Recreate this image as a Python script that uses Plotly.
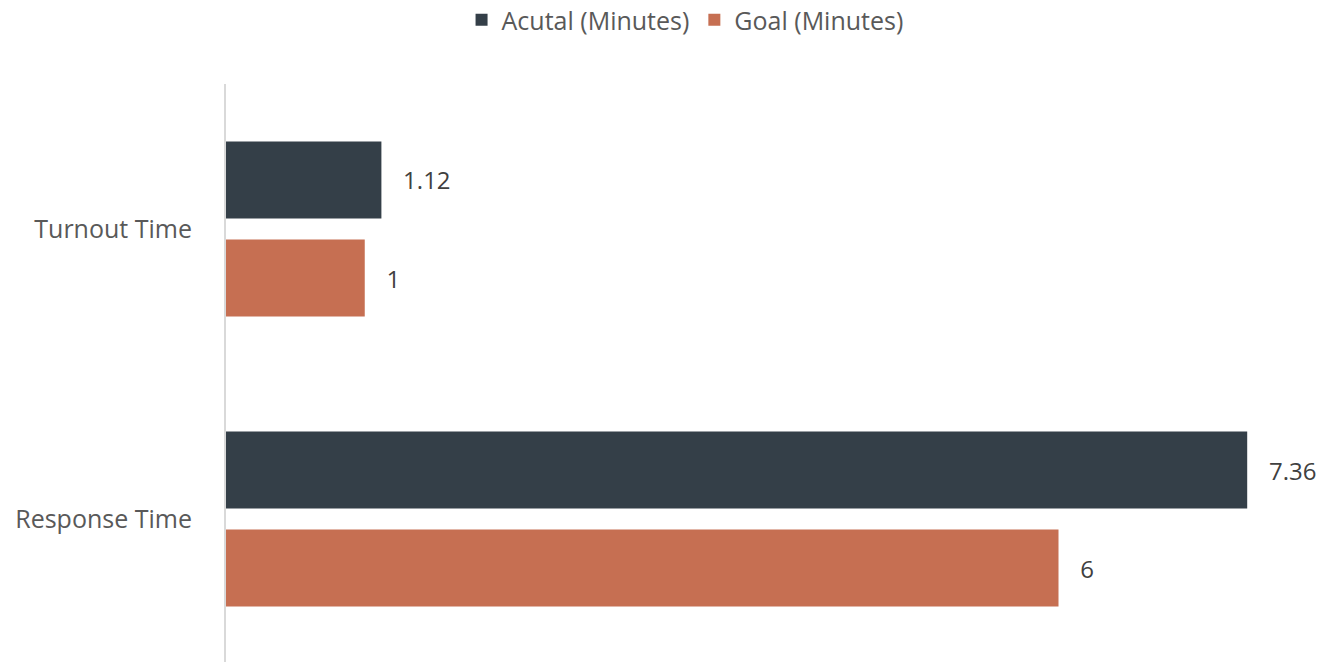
import plotly.graph_objects as go

categories = ["Turnout Time", "Response Time"]
actual_minutes = [1.12, 7.36]
goal_minutes = [1, 6]

series_names = ["Acutal (Minutes)", "Goal (Minutes)"]
colors = ["#343F48", "#C66F52"]

FONT = "Open Sans, Liberation Sans, Arial"
HEIGHT = 662

fig = go.Figure()
for name, vals, col in zip(series_names, [actual_minutes, goal_minutes], colors):
    fig.add_trace(go.Bar(
        y=categories, x=vals, name=name, orientation="h",
        marker=dict(color=col, line=dict(width=0)),
        text=vals, texttemplate="   %{x}", textposition="outside",
        textfont=dict(family=FONT, size=24, color="#404040"),
        cliponaxis=False,
    ))

fig.update_layout(
    width=1338, height=HEIGHT,
    margin=dict(l=226, r=2, t=84, b=0),
    paper_bgcolor="white", plot_bgcolor="white",
    barmode="group", bargap=0.324, bargroupgap=0.214,
    font=dict(family=FONT, size=25, color="#595959"),
    # legend centred on the page, 20px below the top edge
    legend=dict(orientation="h", x=0.512, xanchor="center", xref="container",
                y=1 - 20 / HEIGHT, yanchor="middle", yref="container",
                font=dict(family=FONT, size=25, color="#595959"),
                itemwidth=30, traceorder="normal"),
    showlegend=True,
)
fig.update_xaxes(range=[0, 8], showgrid=False, showticklabels=False,
                 zeroline=False, showline=False)
fig.update_yaxes(categoryorder="array", categoryarray=categories,
                 range=[1.493, -0.5], showgrid=False, zeroline=False,
                 showline=True, linecolor="#D9D9D9", linewidth=2,
                 ticks="", ticklabelstandoff=27,
                 tickfont=dict(family=FONT, size=25, color="#595959"))

fig.write_html("out.html")
